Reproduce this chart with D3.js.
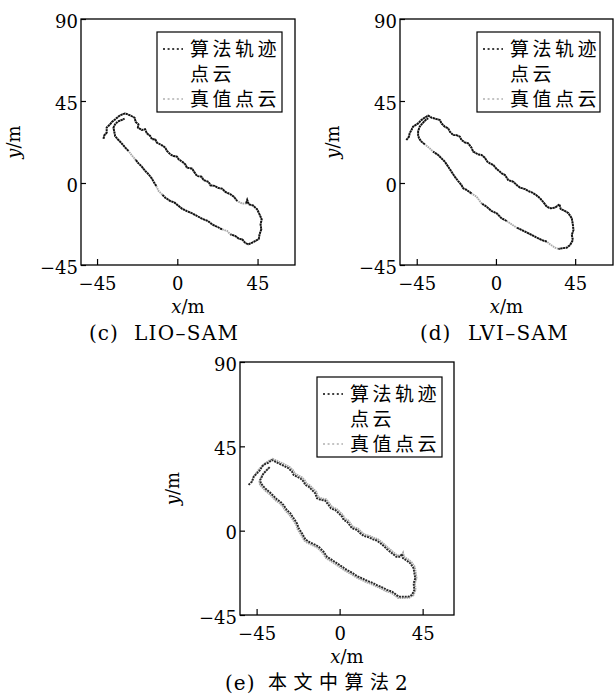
<!DOCTYPE html>
<html><head><meta charset="utf-8">
<script src="https://cdn.jsdelivr.net/npm/d3@7/dist/d3.min.js"></script>
<style>
html,body{margin:0;padding:0;background:#fff;}
svg{display:block;}
</style></head><body>
<svg id="chart" width="614" height="697"></svg>
<script>
// ---------- data ----------
const xTicks = [-45, 0, 45];
const yTicks = [-45, 0, 45, 90];
const legendAlgo = ["算法轨迹", "点云"];
const legendTruth = ["真值点云"];
const captionC = ["(c)", "LIO–SAM"];
const captionD = ["(d)", "LVI–SAM"];
const captionE = ["(e)", "本文中算法", "2"];
const xLabel = ["x", "/m"];
const yLabel = ["y", "/m"];

// (c) LIO-SAM
const algoC = [[-41.4,24.3],[-40.9,26.2],[-39.6,27.6],[-39.6,30.4],[-37.7,32.2],[-36.7,33.5],[-34.9,34.9],[-32.6,36.8],[-30.8,37.7],[-29.3,38.2],
[-26.4,37.1],[-24.0,35.9],[-23.3,33.5],[-21.8,32.2],[-22.1,30.4],[-19.9,29.1],[-18.0,29.5],[-17.1,27.3],[-15.2,25.8],[-14.2,24.0],[-12.4,24.0],[-11.4,22.1],[-8.6,20.7],[-6.75,19.4],[-5.8,17.6],[-3.9,15.7],[-2.1,14.8],[-0.2,14.5],[0.75,13.0],[3.0,11.5],[4.5,10.2],[5.4,8.4],[8.25,7.9],[9.75,5.7],[11.1,3.8],[13.5,3.5],[14.8,1.6],[17.6,0.55],[18.6,-1.3],[21.0,-1.6],[22.9,-2.7],[25.1,-3.1],[27.0,-4.9],[29.8,-6.2],[31.7,-7.5],[33.6,-9.9],null,[38.6,-11.2],[39.2,-9.3],[40.1,-11.7],[42.4,-12.3],[44.8,-14.5],[46.1,-17.2],[47.3,-19.9],[46.7,-22.7],[47.1,-25.4],[46.1,-28.2],[45.75,-30.6],[43.9,-31.8],[42.0,-32.7],[39.75,-33.7],[37.9,-32.7],[36.4,-30.9],[34.5,-30.6],[32.6,-29.1],[29.8,-28.2],null,[25.1,-25.4],[22.3,-24.0],[19.5,-22.7],[17.25,-20.9],[13.9,-19.6],[11.1,-18.1],[8.25,-16.6],[5.4,-15.4],[2.6,-14.1],[0.4,-12.3],[-1.5,-10.8],[-3.9,-9.9],[-6.75,-8.05],[-8.6,-6.2],null,[-11.8,-1.6],[-12.75,-0.2],[-14.25,2.4],[-16.1,4.8],[-18.0,6.6],[-19.9,9.0],[-21.75,10.8],[-23.6,13.0],null,[-27.4,17.6],[-29.6,19.9],[-31.5,22.1],[-33.4,24.0],[-34.9,25.8],[-35.4,28.5],[-35.8,30.4],[-34.9,32.2],[-33.4,33.7],[-31.1,34.6],[-29.6,35.3]];
const truthC = [[-41.4,24.3],[-40.9,26.2],[-39.6,27.6],[-39.6,30.4],[-37.7,32.2],[-36.7,33.5],[-34.9,34.9],[-32.6,36.8],[-30.8,37.7],[-29.3,38.2],
[-26.4,37.1],[-24.0,35.9],[-23.3,33.5],[-21.8,32.2],[-22.1,30.4],[-19.9,29.1],[-18.0,29.5],[-17.1,27.3],[-15.2,25.8],[-14.2,24.0],[-12.4,24.0],[-11.4,22.1],[-8.6,20.7],[-6.75,19.4],[-5.8,17.6],[-3.9,15.7],[-2.1,14.8],[-0.2,14.5],[0.75,13.0],[3.0,11.5],[4.5,10.2],[5.4,8.4],[8.25,7.9],[9.75,5.7],[11.1,3.8],[13.5,3.5],[14.8,1.6],[17.6,0.55],[18.6,-1.3],[21.0,-1.6],[22.9,-2.7],[25.1,-3.1],[27.0,-4.9],[29.8,-6.2],[31.7,-7.5],[33.6,-9.9],[36.4,-11.3],[38.6,-11.2],[39.2,-9.3],[40.1,-11.7],[42.4,-12.3],[44.8,-14.5],[46.1,-17.2],[47.3,-19.9],[46.7,-22.7],[47.1,-25.4],[46.1,-28.2],[45.75,-30.6],[43.9,-31.8],[42.0,-32.7],[39.75,-33.7],[37.9,-32.7],[36.4,-30.9],[34.5,-30.6],[32.6,-29.1],[29.8,-28.2],[27.9,-26.3],[25.1,-25.4],[22.3,-24.0],[19.5,-22.7],[17.25,-20.9],[13.9,-19.6],[11.1,-18.1],[8.25,-16.6],[5.4,-15.4],[2.6,-14.1],[0.4,-12.3],[-1.5,-10.8],[-3.9,-9.9],[-6.75,-8.05],[-8.6,-6.2],[-10.5,-4.4],[-11.8,-1.6],[-12.75,-0.2],[-14.25,2.4],[-16.1,4.8],[-18.0,6.6],[-19.9,9.0],[-21.75,10.8],[-23.6,13.0],[-25.5,15.2],[-27.4,17.6],[-29.6,19.9],[-31.5,22.1],[-33.4,24.0],[-34.9,25.8],[-35.4,28.5],[-35.8,30.4],[-34.9,32.2],[-33.4,33.7],[-31.1,34.6],[-29.6,35.3]];

// (d) LVI-SAM
const algoD = [[-50.9,23.6],[-49.4,25.4],[-49.0,27.3],[-48.0,29.1],[-47.1,30.9],[-44.2,32.7],[-42.3,34.6],[-40.4,35.9],[-38.5,36.95],[-36.6,35.9],[-33.8,35.1],[-31.9,34.6],[-30.9,32.7],[-29.05,30.9],[-27.15,30.0],[-26.2,28.2],[-24.3,26.3],[-22.4,26.3],[-20.5,25.4],[-19.6,23.6],[-17.7,22.3],[-15.8,21.8],[-13.9,19.4],[-12.9,17.2],[-10.1,15.7],[-8.2,15.4],[-6.3,13.9],[-4.9,11.7],[-3.4,10.8],[-1.5,9.9],[0.4,7.7],[2.3,6.2],[3.2,5.3],[5.1,4.4],[7.0,1.6],[9.9,0.7],[11.8,-1.1],[13.7,-2.6],[16.5,-3.3],[18.4,-4.4],[20.3,-5.1],[22.8,-6.6],[25.1,-8.4],[27.0,-10.6],[28.9,-13.0],[31.1,-13.9],[33.6,-13.5],[36.1,-11.7],[36.8,-14.3],[39.3,-15.4],[41.2,-16.6],[43.1,-19.4],[43.7,-23.0],[44.05,-25.8],[43.1,-28.5],[43.7,-31.3],[42.15,-34.0],[40.25,-35.5],[37.4,-35.85],[35.5,-36.2],null,[28.9,-32.2],[26.0,-31.3],[23.2,-30.0],[20.3,-28.5],[17.5,-27.1],[14.6,-25.8],[11.8,-24.5],null,[6.1,-20.85],[3.2,-19.4],[0.4,-16.6],[-2.5,-15.4],[-5.3,-13.0],[-8.2,-11.2],null,[-13.9,-5.7],[-16.7,-3.8],[-18.6,-2.9],[-19.6,-1.1],[-21.5,1.1],[-23.4,3.5],[-25.25,6.2],[-27.15,9.0],[-29.05,11.7],[-30.9,13.5],[-32.85,15.4],[-35.7,17.2],null,[-40.4,21.2],[-42.3,22.7],[-43.7,24.5],[-44.2,26.3],[-44.2,28.5],[-43.3,30.9],[-41.8,32.7],[-39.9,34.6],[-38.5,35.5]];
const truthD = [[-50.9,23.6],[-49.4,25.4],[-49.0,27.3],[-48.0,29.1],[-47.1,30.9],[-44.2,32.7],[-42.3,34.6],[-40.4,35.9],[-38.5,36.95],[-36.6,35.9],[-33.8,35.1],[-31.9,34.6],[-30.9,32.7],[-29.05,30.9],[-27.15,30.0],[-26.2,28.2],[-24.3,26.3],[-22.4,26.3],[-20.5,25.4],[-19.6,23.6],[-17.7,22.3],[-15.8,21.8],[-13.9,19.4],[-12.9,17.2],[-10.1,15.7],[-8.2,15.4],[-6.3,13.9],[-4.9,11.7],[-3.4,10.8],[-1.5,9.9],[0.4,7.7],[2.3,6.2],[3.2,5.3],[5.1,4.4],[7.0,1.6],[9.9,0.7],[11.8,-1.1],[13.7,-2.6],[16.5,-3.3],[18.4,-4.4],[20.3,-5.1],[22.8,-6.6],[25.1,-8.4],[27.0,-10.6],[28.9,-13.0],[31.1,-13.9],[33.6,-13.5],[36.1,-11.7],[36.8,-14.3],[39.3,-15.4],[41.2,-16.6],[43.1,-19.4],[43.7,-23.0],[44.05,-25.8],[43.1,-28.5],[43.7,-31.3],[42.15,-34.0],[40.25,-35.5],[37.4,-35.85],[35.5,-36.2],[33.6,-35.5],[30.8,-33.7],[28.9,-32.2],[26.0,-31.3],[23.2,-30.0],[20.3,-28.5],[17.5,-27.1],[14.6,-25.8],[11.8,-24.5],[8.9,-22.7],[6.1,-20.85],[3.2,-19.4],[0.4,-16.6],[-2.5,-15.4],[-5.3,-13.0],[-8.2,-11.2],[-11.0,-7.5],[-13.9,-5.7],[-16.7,-3.8],[-18.6,-2.9],[-19.6,-1.1],[-21.5,1.1],[-23.4,3.5],[-25.25,6.2],[-27.15,9.0],[-29.05,11.7],[-30.9,13.5],[-32.85,15.4],[-35.7,17.2],[-37.6,19.0],[-40.4,21.2],[-42.3,22.7],[-43.7,24.5],[-44.2,26.3],[-44.2,28.5],[-43.3,30.9],[-41.8,32.7],[-39.9,34.6],[-38.5,35.5]];

// (e) proposed algorithm 2
const algoE = [[-49.35,24.4],[-47.5,26.2],[-46.6,28.8],[-44.8,30.6],[-43.0,32.4],[-42.1,34.2],[-40.3,35.6],[-38.5,36.3],[-36.7,37.7],[-34.9,36.8],[-33.1,35.9],[-31.3,35.1],[-29.5,34.2],[-27.7,33.3],[-25.85,31.5],[-24.9,29.7],[-23.1,28.8],[-21.3,27.9],[-19.5,26.2],[-18.6,24.4],[-16.8,23.5],[-15.0,21.7],[-13.2,19.9],[-12.3,17.3],[-10.1,16.4],[-7.8,16.0],[-6.0,13.7],[-4.7,11.9],[-2.35,11.0],[-0.5,9.3],[1.3,7.5],[2.2,5.7],[4.0,4.8],[5.4,3.0],[6.7,1.3],[9.4,0.4],[11.2,-1.4],[13.0,-2.8],[15.7,-3.5],[18.1,-4.6],[20.2,-5.3],[22.1,-6.7],[23.9,-8.2],[25.7,-9.9],[28.4,-12.1],[30.7,-13.9],[32.9,-13.9],[33.8,-12.4],[34.3,-14.7],[36.5,-16.0],[38.3,-17.4],[40.1,-20.1],[40.5,-22.7],[41.0,-25.4],[40.1,-28.1],[40.5,-31.6],[39.2,-34.3],[37.4,-35.2],[34.7,-35.2],[32.0,-35.2],[30.2,-33.8],[28.4,-32.5],[25.7,-31.6],[23.0,-30.2],[20.2,-29.0],[17.5,-27.7],[14.8,-26.7],[12.1,-25.4],[9.4,-24.2],[6.7,-22.4],[4.0,-21.0],[1.3,-19.2],[-1.4,-17.4],[-4.2,-15.6],[-6.9,-13.9],[-8.7,-11.2],[-11.4,-8.5],[-14.1,-7.1],[-16.8,-5.9],[-18.6,-4.6],[-20.4,-1.4],[-22.2,1.3],[-23.1,3.9],[-24.9,6.6],[-26.75,9.3],[-28.6,11.0],[-30.4,13.7],[-32.2,15.5],[-34.0,16.7],[-35.8,18.5],[-37.6,20.3],[-39.4,21.7],[-41.2,23.5],[-42.7,25.3],[-43.0,27.1],[-42.1,28.8],[-41.2,30.6],[-39.4,32.4],[-37.6,34.2]];
const truthE = [[-47.8,25.8],[-46.2,29.3],[-43.6,32.9],[-41.5,35.0],[-39.0,36.9],[-36.4,38.3],[-34.3,37.5],[-32.5,36.6],[-30.6,35.8],[-28.9,34.9],[-27.1,34.0],[-25.2,32.2],[-24.2,30.4],[-22.5,29.5],[-20.6,28.6],[-18.9,26.9],[-18.0,25.1],[-16.2,24.2],[-14.4,22.4],[-12.6,20.6],[-11.7,18.0],[-9.5,17.1],[-7.2,16.7],[-5.4,14.4],[-4.1,12.6],[-1.7,11.7],[0.1,10.0],[1.9,8.2],[2.8,6.4],[4.6,5.5],[6.0,3.7],[7.3,2.0],[10.0,1.1],[11.8,-0.7],[13.6,-2.1],[16.3,-2.8],[18.7,-3.9],[20.8,-4.6],[22.7,-6.0],[24.5,-7.5],[26.3,-9.2],[29.0,-11.4],[31.3,-13.2],[33.5,-13.2],[34.4,-11.7],[34.9,-14.0],[37.1,-15.3],[38.9,-16.7],[40.8,-19.4],[41.2,-22.0],[41.7,-25.4],[40.8,-28.1],[41.2,-31.6],[39.9,-34.6],[37.6,-35.8],[34.7,-35.9],[31.8,-35.9],[29.8,-34.5],[28.0,-33.2],[25.2,-32.3],[22.5,-30.9],[19.7,-29.7],[17.0,-28.4],[14.3,-27.4],[11.6,-26.1],[8.9,-24.9],[6.2,-23.1],[3.5,-21.7],[0.8,-19.9],[-1.9,-18.1],[-4.7,-16.3],[-7.4,-14.6],[-9.2,-11.9],[-11.9,-9.2],[-14.6,-7.8],[-17.3,-6.6],[-19.1,-5.3],[-20.9,-2.1],[-22.7,0.6],[-23.6,3.2],[-25.4,5.9],[-27.3,8.6],[-29.1,10.3],[-30.9,13.0],[-32.7,14.8],[-34.5,16.0],[-36.3,17.8],[-38.1,19.6],[-39.9,21.0],[-41.7,22.8],[-43.2,24.6],[-43.5,26.4],[-42.8,28.1],[-41.9,29.9],[-40.1,31.7],[-38.3,33.5]];

// ---------- layout ----------
const panels = [
  {algo: algoC, truth: truthC, x0: 81, x1: 295, y0: 19, y1: 265, xd: [-54, 66], cap: captionC, capX: [89, 134], lx: 157, ly: 32, lw: 125, algoDash: "2.2 0.6", algoCol: "#111"},
  {algo: algoD, truth: truthD, x0: 400, x1: 613, y0: 19, y1: 265, xd: [-54.5, 66.5], cap: captionD, capX: [420, 468], lx: 477, ly: 32, lw: 123, algoDash: "2.2 0.6", algoCol: "#111"},
  {algo: algoE, truth: truthE, x0: 240, x1: 454, y0: 362, y1: 615, xd: [-54, 62], cap: captionE, capX: [225, 268, 395], lx: 317, ly: 377, lw: 125, algoDash: "2 0.9", algoCol: "#262626"}
];

const svg = d3.select("#chart");
const SERIF = "'DejaVu Serif', serif";
const CJK = "'Noto Sans CJK SC', sans-serif";

panels.forEach(p => {
  const g = svg.append("g");
  const xs = d3.scaleLinear().domain(p.xd).range([p.x0, p.x1]);
  const ys = d3.scaleLinear().domain([-45, 90]).range([p.y1, p.y0]);

  const ax = g.append("g").attr("transform", `translate(0,${p.y1})`)
    .call(d3.axisBottom(xs).tickValues(xTicks).tickSize(-6).tickPadding(12));
  ax.select(".domain").remove();
  ax.selectAll("line").attr("stroke", "#000").attr("stroke-width", 1.2);
  ax.selectAll("text").attr("font-family", SERIF).attr("font-size", 18).attr("fill", "#000");

  const ay = g.append("g").attr("transform", `translate(${p.x0},0)`)
    .call(d3.axisLeft(ys).tickValues(yTicks).tickSize(-5).tickPadding(3));
  ay.select(".domain").remove();
  ay.selectAll("line").attr("stroke", "#000").attr("stroke-width", 1.2);
  ay.selectAll("text").attr("font-family", SERIF).attr("font-size", 18).attr("fill", "#000").attr("dy", "0.45em");

  g.append("rect").attr("x", p.x0).attr("y", p.y0).attr("width", p.x1 - p.x0).attr("height", p.y1 - p.y0)
    .attr("fill", "none").attr("stroke", "#000").attr("stroke-width", 1.3);

  const line = d3.line().defined(d => d != null).x(d => xs(d[0])).y(d => ys(d[1]));
  g.append("path").datum(p.truth).attr("d", line).attr("fill", "none")
    .attr("stroke", "#a8a8a8").attr("stroke-width", 1.9).attr("stroke-dasharray", "1.6 0.7");
  g.append("path").datum(p.algo).attr("d", line).attr("fill", "none")
    .attr("stroke", p.algoCol).attr("stroke-width", 1.9).attr("stroke-dasharray", p.algoDash);

  g.append("rect").attr("x", p.lx).attr("y", p.ly).attr("width", p.lw).attr("height", 80)
    .attr("fill", "#fff").attr("stroke", "#000").attr("stroke-width", 1.2);
  g.append("line").attr("x1", p.lx + 6).attr("x2", p.lx + 26).attr("y1", p.ly + 17).attr("y2", p.ly + 17)
    .attr("stroke", "#000").attr("stroke-width", 1.6).attr("stroke-dasharray", "2 2.6");
  g.append("line").attr("x1", p.lx + 6).attr("x2", p.lx + 26).attr("y1", p.ly + 67).attr("y2", p.ly + 67)
    .attr("stroke", "#b0b0b0").attr("stroke-width", 1.6).attr("stroke-dasharray", "2 2.6");
  const leg = [[legendAlgo[0], 24], [legendAlgo[1], 49], [legendTruth[0], 74]];
  leg.forEach(([t, dy]) => {
    g.append("text").attr("x", p.lx + 33).attr("y", p.ly + dy).text(t)
      .attr("font-family", CJK).attr("font-size", 19).attr("letter-spacing", "3.5px").attr("fill", "#000");
  });

  const xl = g.append("text").attr("x", (p.x0 + p.x1) / 2).attr("y", p.y1 + 48)
    .attr("text-anchor", "middle").attr("font-family", SERIF).attr("font-size", 18).attr("fill", "#000");
  xl.append("tspan").attr("font-style", "italic").text(xLabel[0]);
  xl.append("tspan").text(xLabel[1]);
  const yl = g.append("text").attr("transform", `translate(${p.x0 - 61},${(p.y0 + p.y1) / 2}) rotate(-90)`)
    .attr("text-anchor", "middle").attr("font-family", SERIF).attr("font-size", 18).attr("fill", "#000");
  yl.append("tspan").attr("font-style", "italic").text(yLabel[0]);
  yl.append("tspan").text(yLabel[1]);

  const cy = p.y1 + 75;
  g.append("text").attr("x", p.capX[0]).attr("y", cy).text(p.cap[0])
    .attr("font-family", SERIF).attr("font-size", 20).attr("letter-spacing", "1px").attr("fill", "#000");
  if (p.cap.length === 2) {
    g.append("text").attr("x", p.capX[1]).attr("y", cy).text(p.cap[1])
      .attr("font-family", SERIF).attr("font-size", 20).attr("letter-spacing", "1.3px").attr("fill", "#000");
  } else {
    g.append("text").attr("x", p.capX[1]).attr("y", cy - 1).text(p.cap[1])
      .attr("font-family", CJK).attr("font-size", 19).attr("letter-spacing", "6.5px").attr("fill", "#000");
    g.append("text").attr("x", p.capX[2]).attr("y", cy).text(p.cap[2])
      .attr("font-family", SERIF).attr("font-size", 20).attr("fill", "#000");
  }
});
</script>
</body></html>
